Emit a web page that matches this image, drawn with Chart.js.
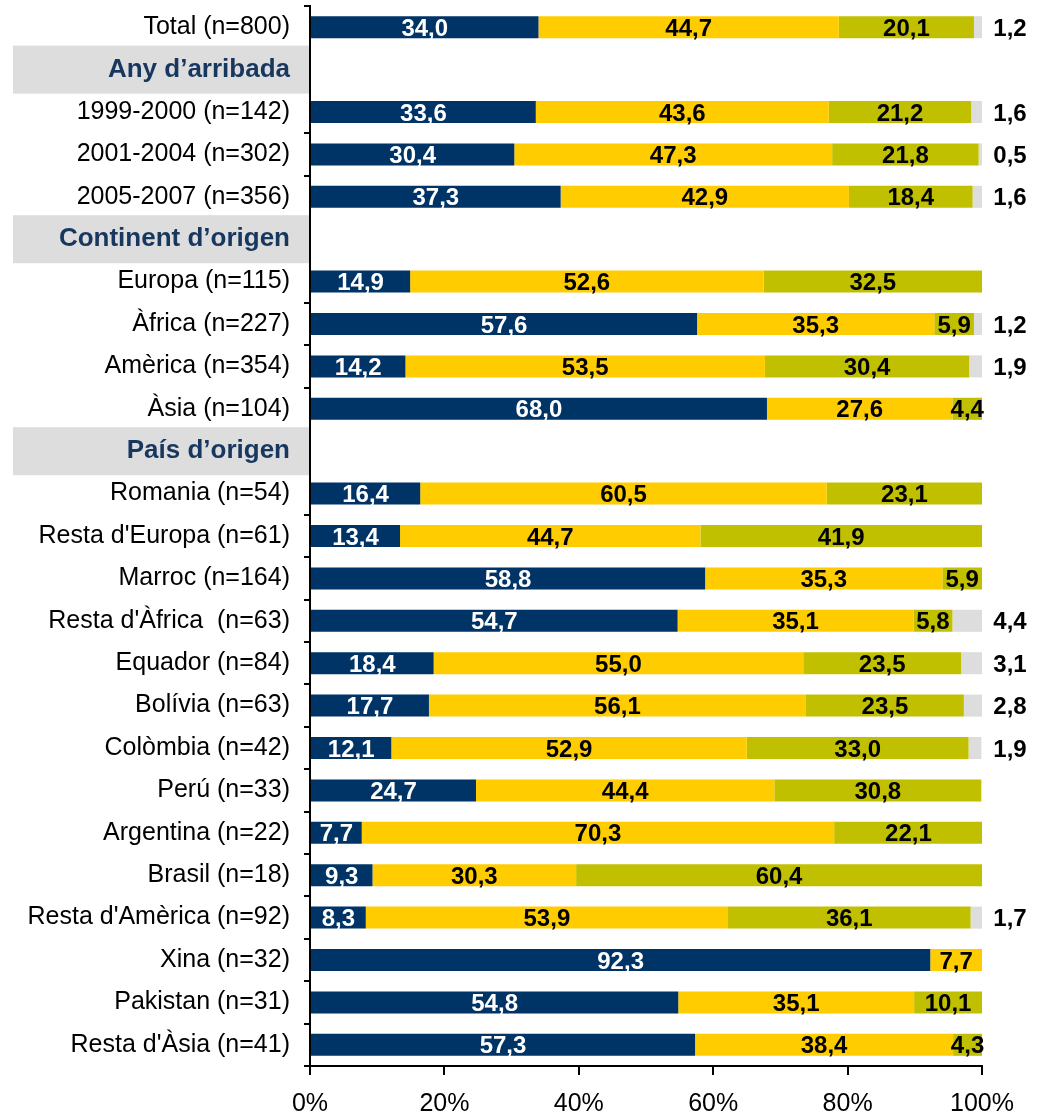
<!DOCTYPE html>
<html>
<head>
<meta charset="utf-8">
<script src="https://cdn.jsdelivr.net/npm/chart.js@4.4.1/dist/chart.umd.min.js"></script>
<style>
  html, body { margin: 0; padding: 0; background: #fff; }
  #wrap { width: 1051px; height: 1115px; }
</style>
</head>
<body>
<div id="wrap"><canvas id="c"></canvas></div>
<script>
// categories (null values = section header rows)
const categories = [
  'Total (n=800)',
  'Any d\u2019arribada',
  '1999-2000 (n=142)', '2001-2004 (n=302)', '2005-2007 (n=356)',
  'Continent d\u2019origen',
  'Europa (n=115)', '\u00C0frica (n=227)', 'Am\u00E8rica (n=354)', '\u00C0sia (n=104)',
  'Pa\u00EDs d\u2019origen',
  'Romania (n=54)', "Resta d'Europa (n=61)", 'Marroc (n=164)', "Resta d'\u00C0frica  (n=63)",
  'Equador (n=84)', 'Bol\u00EDvia (n=63)', 'Col\u00F2mbia (n=42)', 'Per\u00FA (n=33)',
  'Argentina (n=22)', 'Brasil (n=18)', "Resta d'Am\u00E8rica (n=92)",
  'Xina (n=32)', 'Pakistan (n=31)', "Resta d'\u00C0sia (n=41)"
];
const headerRows = [1, 5, 10];

const serie1 = [34.0, null, 33.6, 30.4, 37.3, null, 14.9, 57.6, 14.2, 68.0, null,
  16.4, 13.4, 58.8, 54.7, 18.4, 17.7, 12.1, 24.7, 7.7, 9.3, 8.3, 92.3, 54.8, 57.3];
const serie2 = [44.7, null, 43.6, 47.3, 42.9, null, 52.6, 35.3, 53.5, 27.6, null,
  60.5, 44.7, 35.3, 35.1, 55.0, 56.1, 52.9, 44.4, 70.3, 30.3, 53.9, 7.7, 35.1, 38.4];
const serie3 = [20.1, null, 21.2, 21.8, 18.4, null, 32.5, 5.9, 30.4, 4.4, null,
  23.1, 41.9, 5.9, 5.8, 23.5, 23.5, 33.0, 30.8, 22.1, 60.4, 36.1, 0, 10.1, 4.3];
const serie4 = [1.2, null, 1.6, 0.5, 1.6, null, 0, 1.2, 1.9, 0, null,
  0, 0, 0, 4.4, 3.1, 2.8, 1.9, 0, 0, 0, 1.7, 0, 0, 0];

const xTicks = [0, 20, 40, 60, 80, 100];

const FONT = 'Liberation Sans, Arial, sans-serif';
const fmt = v => v.toFixed(1).replace('.', ',');

// gray boxes behind section headers
const headerBoxes = {
  id: 'headerBoxes',
  beforeDraw(chart) {
    const ctx = chart.ctx, y = chart.scales.y;
    ctx.save();
    ctx.fillStyle = '#DDDDDD';
    headerRows.forEach(i => {
      const py = y.getPixelForValue(i);
      ctx.fillRect(13, py - 24, y.right - 13, 48);
    });
    ctx.restore();
  }
};

// value labels
const valueLabels = {
  id: 'valueLabels',
  afterDatasetsDraw(chart) {
    const ctx = chart.ctx, x = chart.scales.x;
    ctx.save();
    ctx.font = 'bold 24px ' + FONT;
    ctx.textAlign = 'center';
    ctx.textBaseline = 'middle';
    chart.data.datasets.forEach((ds, di) => {
      const meta = chart.getDatasetMeta(di);
      meta.data.forEach((el, i) => {
        const v = ds.data[i];
        if (v == null || v <= 0) return;
        if (di === 3) {
          ctx.fillStyle = '#000';
          ctx.fillText(fmt(v), x.right + 28, el.y + 2);
        } else {
          ctx.fillStyle = di === 0 ? '#fff' : '#000';
          ctx.fillText(fmt(v), (el.x + el.base) / 2, el.y + 2);
        }
      });
    });
    ctx.restore();
  }
};

const hiddenTicks = new Set();
headerRows.forEach(h => { hiddenTicks.add(h); hiddenTicks.add(h + 1); });

new Chart(document.getElementById('c'), {
  type: 'bar',
  data: {
    labels: categories,
    datasets: [
      { data: serie1, backgroundColor: '#003366' },
      { data: serie2, backgroundColor: '#FFCC00' },
      { data: serie3, backgroundColor: '#C0C000' },
      { data: serie4, backgroundColor: '#DDDDDD' }
    ]
  },
  options: {
    indexAxis: 'y',
    responsive: true,
    maintainAspectRatio: false,
    animation: false,
    layout: { padding: { top: 6, right: 69, bottom: 0, left: 0 } },
    datasets: { bar: { barPercentage: 0.52, categoryPercentage: 1 } },
    plugins: { legend: { display: false }, tooltip: { enabled: false } },
    scales: {
      x: {
        stacked: true,
        min: 0, max: 100,
        afterBuildTicks: s => { s.ticks = xTicks.map(v => ({ value: v })); },
        afterFit: s => { s.height = 49; },
        border: { display: true, color: '#000', width: 2 },
        grid: { drawOnChartArea: false, tickLength: 9, color: '#000', lineWidth: 2 },
        ticks: {
          padding: 14,
          color: '#000',
          font: { family: FONT, size: 25 },
          callback: v => v + '%'
        }
      },
      y: {
        stacked: true,
        afterFit: s => { s.width = 310; s.paddingTop = 0; s.paddingBottom = 0; },
        border: { display: true, color: '#000', width: 2 },
        grid: {
          drawOnChartArea: false, offset: true, tickLength: 6, lineWidth: 2,
          color: ctx => hiddenTicks.has(ctx.index) ? 'rgba(0,0,0,0)' : '#000'
        },
        ticks: {
          padding: 14,
          autoSkip: false,
          color: ctx => headerRows.includes(ctx.index) ? '#17375E' : '#000',
          font: ctx => headerRows.includes(ctx.index)
            ? { family: FONT, size: 26, weight: 'bold' }
            : { family: FONT, size: 25 }
        }
      }
    }
  },
  plugins: [headerBoxes, valueLabels]
});
</script>
</body>
</html>
